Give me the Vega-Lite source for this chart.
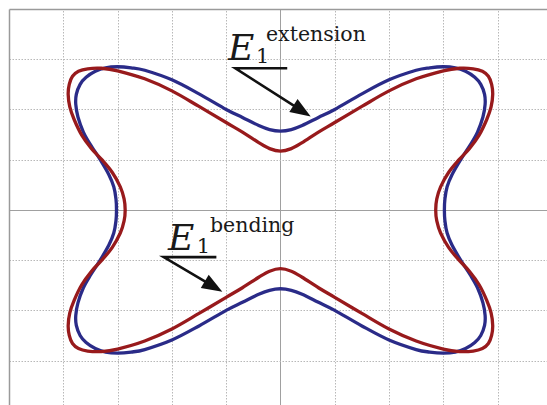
{
  "$schema": "https://vega.github.io/schema/vega-lite/v6.json",
  "width": 538,
  "height": 396,
  "autosize": {"type": "none"},
  "padding": {"left": 9, "top": 9, "right": 0, "bottom": 0},
  "background": "white",
  "config": {"view": {"stroke": null}},
  "datasets": {
    "curves": [
      {"series": "extension", "i": 0, "x": 0, "y": 1.57},
      {"series": "extension", "i": 1, "x": -0.2, "y": 1.6},
      {"series": "extension", "i": 2, "x": -0.4, "y": 1.68},
      {"series": "extension", "i": 3, "x": -0.7, "y": 1.84},
      {"series": "extension", "i": 4, "x": -1.0, "y": 2.0},
      {"series": "extension", "i": 5, "x": -1.5, "y": 2.31},
      {"series": "extension", "i": 6, "x": -2.0, "y": 2.59},
      {"series": "extension", "i": 7, "x": -2.5, "y": 2.78},
      {"series": "extension", "i": 8, "x": -2.75, "y": 2.83},
      {"series": "extension", "i": 9, "x": -3.0, "y": 2.85},
      {"series": "extension", "i": 10, "x": -3.22, "y": 2.83},
      {"series": "extension", "i": 11, "x": -3.41, "y": 2.76},
      {"series": "extension", "i": 12, "x": -3.58, "y": 2.64},
      {"series": "extension", "i": 13, "x": -3.69, "y": 2.5},
      {"series": "extension", "i": 14, "x": -3.76, "y": 2.3},
      {"series": "extension", "i": 15, "x": -3.77, "y": 2.1},
      {"series": "extension", "i": 16, "x": -3.73, "y": 1.85},
      {"series": "extension", "i": 17, "x": -3.63, "y": 1.55},
      {"series": "extension", "i": 18, "x": -3.5, "y": 1.3},
      {"series": "extension", "i": 19, "x": -3.32, "y": 1.0},
      {"series": "extension", "i": 20, "x": -3.16, "y": 0.7},
      {"series": "extension", "i": 21, "x": -3.07, "y": 0.46},
      {"series": "extension", "i": 22, "x": -3.03, "y": 0.22},
      {"series": "extension", "i": 23, "x": -3.02, "y": 0},
      {"series": "extension", "i": 24, "x": -3.03, "y": -0.22},
      {"series": "extension", "i": 25, "x": -3.07, "y": -0.46},
      {"series": "extension", "i": 26, "x": -3.16, "y": -0.7},
      {"series": "extension", "i": 27, "x": -3.32, "y": -1.0},
      {"series": "extension", "i": 28, "x": -3.5, "y": -1.3},
      {"series": "extension", "i": 29, "x": -3.63, "y": -1.55},
      {"series": "extension", "i": 30, "x": -3.73, "y": -1.85},
      {"series": "extension", "i": 31, "x": -3.77, "y": -2.1},
      {"series": "extension", "i": 32, "x": -3.76, "y": -2.3},
      {"series": "extension", "i": 33, "x": -3.69, "y": -2.5},
      {"series": "extension", "i": 34, "x": -3.58, "y": -2.64},
      {"series": "extension", "i": 35, "x": -3.41, "y": -2.76},
      {"series": "extension", "i": 36, "x": -3.22, "y": -2.83},
      {"series": "extension", "i": 37, "x": -3.0, "y": -2.85},
      {"series": "extension", "i": 38, "x": -2.75, "y": -2.83},
      {"series": "extension", "i": 39, "x": -2.5, "y": -2.78},
      {"series": "extension", "i": 40, "x": -2.0, "y": -2.59},
      {"series": "extension", "i": 41, "x": -1.5, "y": -2.31},
      {"series": "extension", "i": 42, "x": -1.0, "y": -2.0},
      {"series": "extension", "i": 43, "x": -0.7, "y": -1.84},
      {"series": "extension", "i": 44, "x": -0.4, "y": -1.68},
      {"series": "extension", "i": 45, "x": -0.2, "y": -1.6},
      {"series": "extension", "i": 46, "x": 0, "y": -1.57},
      {"series": "extension", "i": 47, "x": 0.2, "y": -1.6},
      {"series": "extension", "i": 48, "x": 0.4, "y": -1.68},
      {"series": "extension", "i": 49, "x": 0.7, "y": -1.84},
      {"series": "extension", "i": 50, "x": 1.0, "y": -2.0},
      {"series": "extension", "i": 51, "x": 1.5, "y": -2.31},
      {"series": "extension", "i": 52, "x": 2.0, "y": -2.59},
      {"series": "extension", "i": 53, "x": 2.5, "y": -2.78},
      {"series": "extension", "i": 54, "x": 2.75, "y": -2.83},
      {"series": "extension", "i": 55, "x": 3.0, "y": -2.85},
      {"series": "extension", "i": 56, "x": 3.22, "y": -2.83},
      {"series": "extension", "i": 57, "x": 3.41, "y": -2.76},
      {"series": "extension", "i": 58, "x": 3.58, "y": -2.64},
      {"series": "extension", "i": 59, "x": 3.69, "y": -2.5},
      {"series": "extension", "i": 60, "x": 3.76, "y": -2.3},
      {"series": "extension", "i": 61, "x": 3.77, "y": -2.1},
      {"series": "extension", "i": 62, "x": 3.73, "y": -1.85},
      {"series": "extension", "i": 63, "x": 3.63, "y": -1.55},
      {"series": "extension", "i": 64, "x": 3.5, "y": -1.3},
      {"series": "extension", "i": 65, "x": 3.32, "y": -1.0},
      {"series": "extension", "i": 66, "x": 3.16, "y": -0.7},
      {"series": "extension", "i": 67, "x": 3.07, "y": -0.46},
      {"series": "extension", "i": 68, "x": 3.03, "y": -0.22},
      {"series": "extension", "i": 69, "x": 3.02, "y": 0},
      {"series": "extension", "i": 70, "x": 3.03, "y": 0.22},
      {"series": "extension", "i": 71, "x": 3.07, "y": 0.46},
      {"series": "extension", "i": 72, "x": 3.16, "y": 0.7},
      {"series": "extension", "i": 73, "x": 3.32, "y": 1.0},
      {"series": "extension", "i": 74, "x": 3.5, "y": 1.3},
      {"series": "extension", "i": 75, "x": 3.63, "y": 1.55},
      {"series": "extension", "i": 76, "x": 3.73, "y": 1.85},
      {"series": "extension", "i": 77, "x": 3.77, "y": 2.1},
      {"series": "extension", "i": 78, "x": 3.76, "y": 2.3},
      {"series": "extension", "i": 79, "x": 3.69, "y": 2.5},
      {"series": "extension", "i": 80, "x": 3.58, "y": 2.64},
      {"series": "extension", "i": 81, "x": 3.41, "y": 2.76},
      {"series": "extension", "i": 82, "x": 3.22, "y": 2.83},
      {"series": "extension", "i": 83, "x": 3.0, "y": 2.85},
      {"series": "extension", "i": 84, "x": 2.75, "y": 2.83},
      {"series": "extension", "i": 85, "x": 2.5, "y": 2.78},
      {"series": "extension", "i": 86, "x": 2.0, "y": 2.59},
      {"series": "extension", "i": 87, "x": 1.5, "y": 2.31},
      {"series": "extension", "i": 88, "x": 1.0, "y": 2.0},
      {"series": "extension", "i": 89, "x": 0.7, "y": 1.84},
      {"series": "extension", "i": 90, "x": 0.4, "y": 1.68},
      {"series": "extension", "i": 91, "x": 0.2, "y": 1.6},

      {"series": "bending", "i": 0, "x": 0, "y": 1.17},
      {"series": "bending", "i": 1, "x": -0.2, "y": 1.22},
      {"series": "bending", "i": 2, "x": -0.4, "y": 1.34},
      {"series": "bending", "i": 3, "x": -0.7, "y": 1.55},
      {"series": "bending", "i": 4, "x": -1.0, "y": 1.74},
      {"series": "bending", "i": 5, "x": -1.5, "y": 2.06},
      {"series": "bending", "i": 6, "x": -2.0, "y": 2.37},
      {"series": "bending", "i": 7, "x": -2.5, "y": 2.61},
      {"series": "bending", "i": 8, "x": -3.0, "y": 2.77},
      {"series": "bending", "i": 9, "x": -3.3, "y": 2.82},
      {"series": "bending", "i": 10, "x": -3.55, "y": 2.81},
      {"series": "bending", "i": 11, "x": -3.72, "y": 2.76},
      {"series": "bending", "i": 12, "x": -3.83, "y": 2.66},
      {"series": "bending", "i": 13, "x": -3.89, "y": 2.5},
      {"series": "bending", "i": 14, "x": -3.91, "y": 2.3},
      {"series": "bending", "i": 15, "x": -3.88, "y": 2.05},
      {"series": "bending", "i": 16, "x": -3.8, "y": 1.8},
      {"series": "bending", "i": 17, "x": -3.66, "y": 1.49},
      {"series": "bending", "i": 18, "x": -3.48, "y": 1.22},
      {"series": "bending", "i": 19, "x": -3.29, "y": 1.0},
      {"series": "bending", "i": 20, "x": -3.1, "y": 0.75},
      {"series": "bending", "i": 21, "x": -2.95, "y": 0.46},
      {"series": "bending", "i": 22, "x": -2.88, "y": 0.22},
      {"series": "bending", "i": 23, "x": -2.86, "y": 0},
      {"series": "bending", "i": 24, "x": -2.88, "y": -0.22},
      {"series": "bending", "i": 25, "x": -2.95, "y": -0.46},
      {"series": "bending", "i": 26, "x": -3.1, "y": -0.75},
      {"series": "bending", "i": 27, "x": -3.29, "y": -1.0},
      {"series": "bending", "i": 28, "x": -3.48, "y": -1.22},
      {"series": "bending", "i": 29, "x": -3.66, "y": -1.49},
      {"series": "bending", "i": 30, "x": -3.8, "y": -1.8},
      {"series": "bending", "i": 31, "x": -3.88, "y": -2.05},
      {"series": "bending", "i": 32, "x": -3.91, "y": -2.3},
      {"series": "bending", "i": 33, "x": -3.89, "y": -2.5},
      {"series": "bending", "i": 34, "x": -3.83, "y": -2.66},
      {"series": "bending", "i": 35, "x": -3.72, "y": -2.76},
      {"series": "bending", "i": 36, "x": -3.55, "y": -2.81},
      {"series": "bending", "i": 37, "x": -3.3, "y": -2.82},
      {"series": "bending", "i": 38, "x": -3.0, "y": -2.77},
      {"series": "bending", "i": 39, "x": -2.5, "y": -2.61},
      {"series": "bending", "i": 40, "x": -2.0, "y": -2.37},
      {"series": "bending", "i": 41, "x": -1.5, "y": -2.06},
      {"series": "bending", "i": 42, "x": -1.0, "y": -1.74},
      {"series": "bending", "i": 43, "x": -0.7, "y": -1.55},
      {"series": "bending", "i": 44, "x": -0.4, "y": -1.34},
      {"series": "bending", "i": 45, "x": -0.2, "y": -1.22},
      {"series": "bending", "i": 46, "x": 0, "y": -1.17},
      {"series": "bending", "i": 47, "x": 0.2, "y": -1.22},
      {"series": "bending", "i": 48, "x": 0.4, "y": -1.34},
      {"series": "bending", "i": 49, "x": 0.7, "y": -1.55},
      {"series": "bending", "i": 50, "x": 1.0, "y": -1.74},
      {"series": "bending", "i": 51, "x": 1.5, "y": -2.06},
      {"series": "bending", "i": 52, "x": 2.0, "y": -2.37},
      {"series": "bending", "i": 53, "x": 2.5, "y": -2.61},
      {"series": "bending", "i": 54, "x": 3.0, "y": -2.77},
      {"series": "bending", "i": 55, "x": 3.3, "y": -2.82},
      {"series": "bending", "i": 56, "x": 3.55, "y": -2.81},
      {"series": "bending", "i": 57, "x": 3.72, "y": -2.76},
      {"series": "bending", "i": 58, "x": 3.83, "y": -2.66},
      {"series": "bending", "i": 59, "x": 3.89, "y": -2.5},
      {"series": "bending", "i": 60, "x": 3.91, "y": -2.3},
      {"series": "bending", "i": 61, "x": 3.88, "y": -2.05},
      {"series": "bending", "i": 62, "x": 3.8, "y": -1.8},
      {"series": "bending", "i": 63, "x": 3.66, "y": -1.49},
      {"series": "bending", "i": 64, "x": 3.48, "y": -1.22},
      {"series": "bending", "i": 65, "x": 3.29, "y": -1.0},
      {"series": "bending", "i": 66, "x": 3.1, "y": -0.75},
      {"series": "bending", "i": 67, "x": 2.95, "y": -0.46},
      {"series": "bending", "i": 68, "x": 2.88, "y": -0.22},
      {"series": "bending", "i": 69, "x": 2.86, "y": 0},
      {"series": "bending", "i": 70, "x": 2.88, "y": 0.22},
      {"series": "bending", "i": 71, "x": 2.95, "y": 0.46},
      {"series": "bending", "i": 72, "x": 3.1, "y": 0.75},
      {"series": "bending", "i": 73, "x": 3.29, "y": 1.0},
      {"series": "bending", "i": 74, "x": 3.48, "y": 1.22},
      {"series": "bending", "i": 75, "x": 3.66, "y": 1.49},
      {"series": "bending", "i": 76, "x": 3.8, "y": 1.8},
      {"series": "bending", "i": 77, "x": 3.88, "y": 2.05},
      {"series": "bending", "i": 78, "x": 3.91, "y": 2.3},
      {"series": "bending", "i": 79, "x": 3.89, "y": 2.5},
      {"series": "bending", "i": 80, "x": 3.83, "y": 2.66},
      {"series": "bending", "i": 81, "x": 3.72, "y": 2.76},
      {"series": "bending", "i": 82, "x": 3.55, "y": 2.81},
      {"series": "bending", "i": 83, "x": 3.3, "y": 2.82},
      {"series": "bending", "i": 84, "x": 3.0, "y": 2.77},
      {"series": "bending", "i": 85, "x": 2.5, "y": 2.61},
      {"series": "bending", "i": 86, "x": 2.0, "y": 2.37},
      {"series": "bending", "i": 87, "x": 1.5, "y": 2.06},
      {"series": "bending", "i": 88, "x": 1.0, "y": 1.74},
      {"series": "bending", "i": 89, "x": 0.7, "y": 1.55},
      {"series": "bending", "i": 90, "x": 0.4, "y": 1.34},
      {"series": "bending", "i": 91, "x": 0.2, "y": 1.22}
    ],
    "leaders": [
      {"label": "extension", "k": 0, "x": 0.125, "y": 2.82},
      {"label": "extension", "k": 1, "x": -0.83, "y": 2.82},
      {"label": "extension", "k": 2, "x": 0.433, "y": 1.946},
      {"label": "bending", "k": 0, "x": -1.18, "y": -0.94},
      {"label": "bending", "k": 1, "x": -2.15, "y": -0.94},
      {"label": "bending", "k": 2, "x": -1.197, "y": -1.548}
    ],
    "symbols": [
      {"label": "extension", "x": -0.967, "y": 2.986},
      {"label": "bending", "x": -2.072, "y": -0.796}
    ],
    "subscripts": [
      {"label": "extension", "x": -0.45, "y": 2.927},
      {"label": "bending", "x": -1.54, "y": -0.856}
    ],
    "superscripts": [
      {"label": "extension", "x": -0.267, "y": 3.365},
      {"label": "bending", "x": -1.299, "y": -0.438}
    ]
  },
  "layer": [
    {
      "data": {"name": "curves"},
      "mark": {"type": "line", "interpolate": "cardinal-closed", "strokeWidth": 3.3, "strokeJoin": "round"},
      "encoding": {
        "x": {
          "field": "x", "type": "quantitative",
          "scale": {"domain": [-5, 4.91], "nice": false, "zero": false},
          "axis": {
            "orient": "top", "values": [-4, -3, -2, -1, 0, 1, 2, 3, 4],
            "grid": true, "gridWidth": 1,
            "gridColor": {"condition": {"test": "datum.value === 0", "value": "#a0a0a0"}, "value": "#b8b8b8"},
            "gridDash": {"condition": {"test": "datum.value === 0", "value": []}, "value": [1.5, 1.5]},
            "domain": true, "domainColor": "#9a9a9a", "domainWidth": 1.5,
            "labels": false, "ticks": false, "title": null
          }
        },
        "y": {
          "field": "y", "type": "quantitative",
          "scale": {"domain": [-3.884, 4], "nice": false, "zero": false},
          "axis": {
            "orient": "left", "values": [-3, -2, -1, 0, 1, 2, 3],
            "grid": true, "gridWidth": 1,
            "gridColor": {"condition": {"test": "datum.value === 0", "value": "#a0a0a0"}, "value": "#b8b8b8"},
            "gridDash": {"condition": {"test": "datum.value === 0", "value": []}, "value": [1.5, 1.5]},
            "domain": true, "domainColor": "#9a9a9a", "domainWidth": 1.5,
            "labels": false, "ticks": false, "title": null
          }
        },
        "color": {
          "field": "series", "type": "nominal",
          "scale": {"domain": ["extension", "bending"], "range": ["#2a2b88", "#981a1c"]},
          "legend": null
        },
        "order": {"field": "i", "type": "quantitative"}
      }
    },
    {
      "data": {"name": "leaders"},
      "mark": {"type": "line", "color": "#111111", "strokeWidth": 2.6},
      "encoding": {
        "x": {"field": "x", "type": "quantitative"},
        "y": {"field": "y", "type": "quantitative"},
        "detail": {"field": "label", "type": "nominal"},
        "order": {"field": "k", "type": "quantitative"}
      }
    },
    {
      "data": {"values": [{"label": "extension", "x": 0.557, "y": 1.86}]},
      "mark": {"type": "point", "shape": "M0,0L0.75,2L-0.75,2Z", "size": 420, "filled": true, "color": "#111111", "opacity": 1, "angle": 122.7},
      "encoding": {
        "x": {"field": "x", "type": "quantitative"},
        "y": {"field": "y", "type": "quantitative"}
      }
    },
    {
      "data": {"values": [{"label": "bending", "x": -1.07, "y": -1.63}]},
      "mark": {"type": "point", "shape": "M0,0L0.75,2L-0.75,2Z", "size": 420, "filled": true, "color": "#111111", "opacity": 1, "angle": 120.8},
      "encoding": {
        "x": {"field": "x", "type": "quantitative"},
        "y": {"field": "y", "type": "quantitative"}
      }
    },
    {
      "data": {"name": "symbols"},
      "mark": {"type": "text", "text": "E", "font": "DejaVu Serif", "fontStyle": "italic", "fontSize": 36, "align": "left", "baseline": "alphabetic", "color": "#1a1a1a"},
      "encoding": {
        "x": {"field": "x", "type": "quantitative"},
        "y": {"field": "y", "type": "quantitative"}
      }
    },
    {
      "data": {"name": "subscripts"},
      "mark": {"type": "text", "text": "1", "font": "DejaVu Serif", "fontSize": 21, "align": "left", "baseline": "alphabetic", "color": "#1a1a1a"},
      "encoding": {
        "x": {"field": "x", "type": "quantitative"},
        "y": {"field": "y", "type": "quantitative"}
      }
    },
    {
      "data": {"name": "superscripts"},
      "mark": {"type": "text", "font": "DejaVu Serif", "fontSize": 20.5, "align": "left", "baseline": "alphabetic", "color": "#1a1a1a"},
      "encoding": {
        "x": {"field": "x", "type": "quantitative"},
        "y": {"field": "y", "type": "quantitative"},
        "text": {"field": "label", "type": "nominal"}
      }
    }
  ]
}
